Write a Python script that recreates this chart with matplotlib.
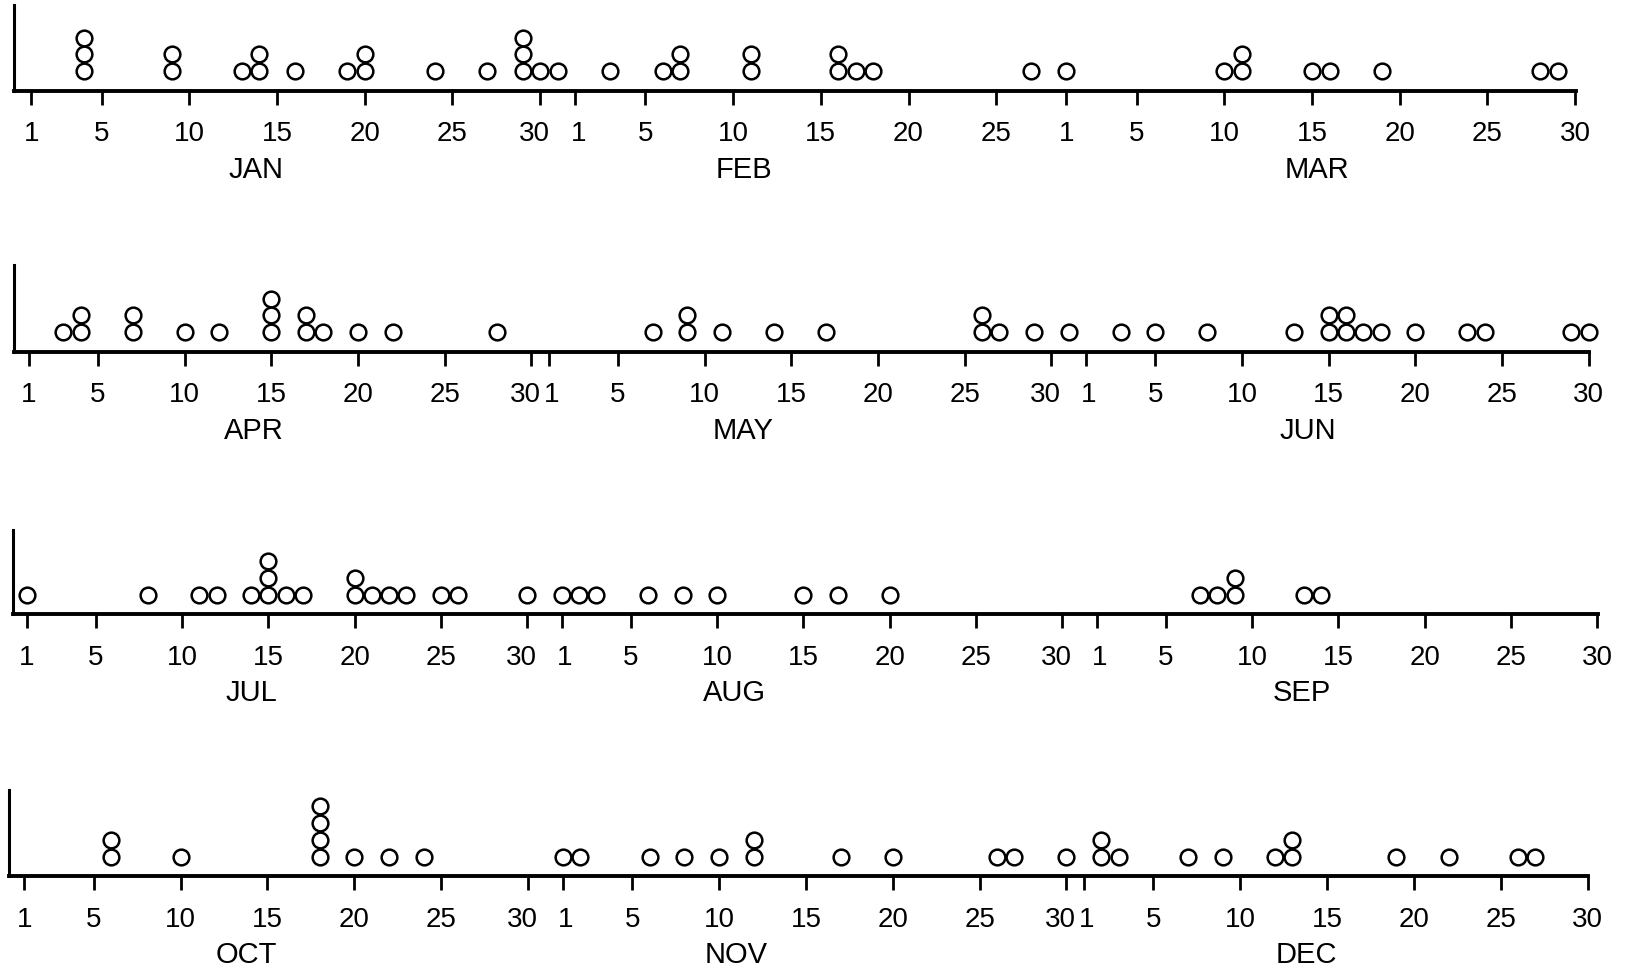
import matplotlib.pyplot as plt
from matplotlib.transforms import ScaledTranslation

# one entry per circle; a repeated day means circles stacked on that day
jan = [4, 4, 4, 9, 9, 13, 14, 14, 16, 19, 20, 20, 24, 27, 29, 29, 29, 30, 31]
feb = [3, 6, 7, 7, 11, 11, 16, 16, 17, 18, 27]
mar = [1, 10, 11, 11, 15, 16, 19, 28, 29]
apr = [3, 4, 4, 7, 7, 10, 12, 15, 15, 15, 17, 17, 18, 20, 22, 28]
may = [7, 9, 9, 11, 14, 17, 26, 26, 27, 29, 31]
jun = [3, 5, 8, 13, 15, 15, 16, 16, 17, 18, 20, 23, 24, 29, 30]
jul = [1, 8, 11, 12, 14, 15, 15, 15, 16, 17, 20, 20, 21, 22, 23, 25, 26, 30]
aug = [1, 2, 3, 6, 8, 10, 15, 17, 20]
sep = [7, 8, 9, 9, 13, 14]
oct_ = [6, 6, 10, 18, 18, 18, 18, 20, 22, 24]
nov = [1, 2, 6, 8, 10, 12, 12, 17, 20, 26, 27, 30]
dec = [2, 2, 3, 7, 9, 12, 13, 13, 19, 22, 26, 27]

month_data = [jan, feb, mar, apr, may, jun, jul, aug, sep, oct_, nov, dec]
month_names = ["JAN", "FEB", "MAR", "APR", "MAY", "JUN",
               "JUL", "AUG", "SEP", "OCT", "NOV", "DEC"]
month_len = [31, 28, 31, 30, 31, 30, 31, 31, 30, 31, 30, 31]
tick_days = [1, 5, 10, 15, 20, 25, 30]

W, H = 1631, 971
fig = plt.figure(figsize=(W / 100, H / 100), dpi=100)
plt.rcParams['font.family'] = ['Liberation Sans', 'DejaVu Sans']

# pixel layout per row: spine x, day-1 x, last tick x, axis y, top y
rows_px = [(14, 31.4, 1576, 90.7, 5),
           (14, 28.6, 1589.5, 351.7, 265),
           (13, 26.8, 1598, 614, 530),
           (9, 24.3, 1588.4, 876, 790)]
step = 16.7           # px between stacked circles
base = 19.5           # px from axis to lowest circle centre
# where the month name sits, in days of that month
label_day = [13.8, 10.6, 15.3, 14, 12.2, 13.8, 14, 11, 12.9, 13.8, 11, 13.8]

for r, (sx, x0, x1, ay, ty) in enumerate(rows_px):
    ax = fig.add_axes([sx / W, 1 - ay / H, (x1 - sx) / W, (ay - ty) / H])
    ms = range(3 * r, 3 * r + 3)
    offs = []
    o = 0
    for m in ms:
        offs.append(o)
        o += month_len[m]
    last = offs[2] + 29
    ppd = (x1 - x0) / last
    ax.set_xlim((sx - x0) / ppd, last + 0.05)
    ax.set_ylim(0, (ay - ty) / step)

    ticks, labels = [], []
    for k, m in enumerate(ms):
        for d in tick_days:
            if d <= month_len[m]:
                ticks.append(offs[k] + d - 1)
                labels.append(str(d))
        xs, ys = [], []
        seen = {}
        for d in month_data[m]:
            n = seen.get(d, 0)
            seen[d] = n + 1
            xs.append(offs[k] + d - 1)
            ys.append(base / step + n)
        ax.plot(xs, ys, 'o', ms=11.3, mfc='white', mec='black', mew=1.8,
                clip_on=False)
        ax.annotate(month_names[m], xy=(offs[k] + label_day[m] - 1, 0),
                    xycoords=('data', 'axes fraction'), xytext=(0, -57),
                    textcoords='offset points', ha='center', va='center',
                    fontsize=21)

    ax.set_xticks(ticks)
    ax.set_xticklabels(labels, fontsize=20)
    ax.tick_params(axis='x', direction='out', length=10, width=2, pad=12)
    # push "30" and "1" apart where the month changes
    tl = ax.get_xticklabels()
    for i in range(len(ticks) - 1):
        if ticks[i + 1] - ticks[i] <= 2:
            tl[i].set_transform(tl[i].get_transform() +
                                ScaledTranslation(-6 / 100, 0, fig.dpi_scale_trans))
            tl[i + 1].set_transform(tl[i + 1].get_transform() +
                                    ScaledTranslation(3 / 100, 0, fig.dpi_scale_trans))
    ax.set_yticks([])
    ax.spines['top'].set_visible(False)
    ax.spines['right'].set_visible(False)
    ax.spines['bottom'].set_linewidth(2.8)
    ax.spines['left'].set_linewidth(2.2)
    ax.patch.set_alpha(0)

fig.savefig("out.png", dpi=100)
